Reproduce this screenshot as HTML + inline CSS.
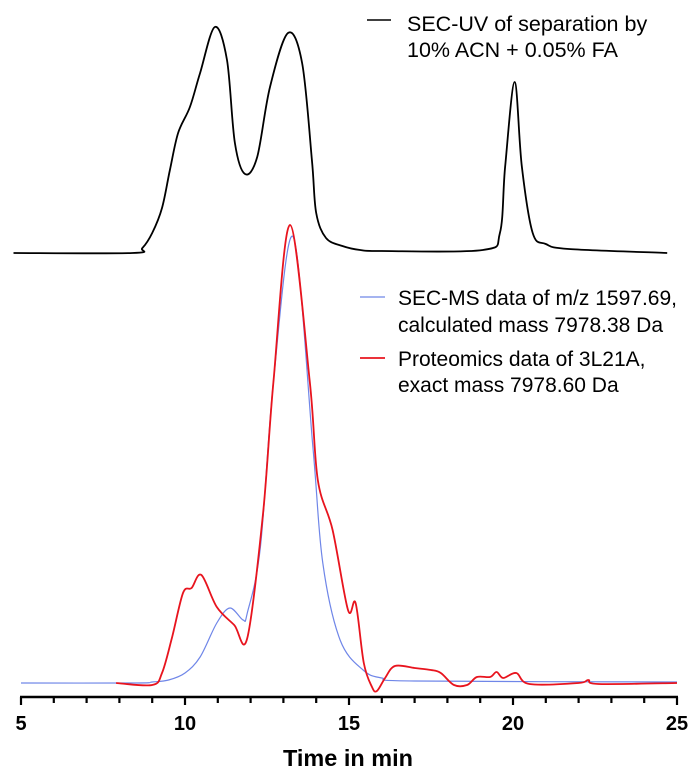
<!DOCTYPE html>
<html><head><meta charset="utf-8"><style>
html,body{margin:0;padding:0;background:#fff;}
svg{display:block;font-family:"Liberation Sans",Arial,sans-serif;}
</style></head><body>
<svg id="chart" width="696" height="776" viewBox="0 0 696 776" xmlns="http://www.w3.org/2000/svg">
<g id="axis"></g>
<g id="series"></g>
<g>
<line x1="367" y1="20" x2="391" y2="20" stroke="#000" stroke-width="1.6"/>
<text x="407" y="31" font-size="21.5" fill="#000">SEC-UV of separation by</text>
<text x="407" y="57" font-size="21.5" fill="#000">10% ACN + 0.05% FA</text>
</g>
<g>
<line x1="360" y1="297" x2="385" y2="297" stroke="#6f86e8" stroke-width="1.2"/>
<text x="398" y="305" font-size="21" fill="#000">SEC-MS data of m/z 1597.69,</text>
<text x="398" y="332" font-size="21" fill="#000">calculated mass 7978.38 Da</text>
</g>
<g>
<line x1="360" y1="358" x2="385" y2="358" stroke="#e8141e" stroke-width="1.8"/>
<text x="398" y="366" font-size="21" fill="#000">Proteomics data of 3L21A,</text>
<text x="398" y="392" font-size="21" fill="#000">exact mass 7978.60 Da</text>
</g>
<text x="283" y="766" textLength="130" lengthAdjust="spacingAndGlyphs" font-size="23" font-weight="bold" fill="#000">Time in min</text>
</svg>
<script>
const tickLabels=[5,10,15,20,25];
const uvTime=[4.77,8.4,8.7,9.0,9.3,9.54,9.79,10.15,10.46,10.91,11.28,11.52,11.83,12.2,12.59,13.14,13.57,13.87,14.0,14.3,14.8,15.34,16,19.08,19.6,19.76,20.05,20.27,20.6,21.0,21.7,24.7];
const uvValue=[0,0,5,20,45,83,120,146,180,226,193,110,79,96,166,220,190,93,40,15,7,3,2,3,20,86,171,86,20,9,4,0];
const msTime=[5,8.5,9,9.5,10,10.46,10.97,11.37,11.77,11.9,12.3,12.7,13.3,13.9,14.2,14.73,15.43,16,17,25];
const msValue=[0,0,1,3,10,26,60,75,63,70,136,303,446,236,120,43,13,5,2,1];
const prTime=[7.9,9,9.3,9.6,9.94,10.2,10.5,10.97,11.5,11.9,12.38,12.7,13.2,13.8,14.05,14.5,14.97,15.2,15.45,15.7,15.85,16.1,16.4,17,17.5,17.8,18.2,18.6,18.9,19.3,19.5,19.7,20.1,20.5,22,22.3,22.6,25];
const prValue=[0,-2,10,45,90,95,108,76,58,45,170,303,458,303,203,153,73,80,20,-4,-8,5,17,15,13,10,-2,-2,6,6,11,5,10,-1,0,3,-1,0];

const NS='http://www.w3.org/2000/svg';
const x=t=>21+(t-5)*(656/20);
const yUV=v=>253-v;
const yMS=v=>683-v;
function smooth(pts){
  let d='M'+pts[0][0].toFixed(1)+','+pts[0][1].toFixed(1);
  for(let i=0;i<pts.length-1;i++){
    const p0=pts[Math.max(0,i-1)],p1=pts[i],p2=pts[i+1],p3=pts[Math.min(pts.length-1,i+2)];
    const c1=[p1[0]+(p2[0]-p0[0])/6,p1[1]+(p2[1]-p0[1])/6];
    const c2=[p2[0]-(p3[0]-p1[0])/6,p2[1]-(p3[1]-p1[1])/6];
    d+='C'+c1[0].toFixed(1)+','+c1[1].toFixed(1)+' '+c2[0].toFixed(1)+','+c2[1].toFixed(1)+' '+p2[0].toFixed(1)+','+p2[1].toFixed(1);
  }
  return d;
}
const sg=document.getElementById('series');
function addLine(ts,vs,yf,color,w,name){
  const p=document.createElementNS(NS,'path');
  p.setAttribute('d',smooth(ts.map((t,i)=>[x(t),yf(vs[i])])));
  p.setAttribute('fill','none');p.setAttribute('stroke',color);p.setAttribute('stroke-width',w);
  p.setAttribute('stroke-linejoin','round');
  
  
  sg.appendChild(p);
}
addLine(uvTime,uvValue,yUV,'#000',1.8,'uv-trace');
addLine(msTime,msValue,yMS,'#6f86e8',1.2,'ms-trace');
addLine(prTime,prValue,yMS,'#e8141e',1.8,'proteomics-trace');

const ax=document.getElementById('axis');
const base=document.createElementNS(NS,'line');
base.setAttribute('x1',x(5)-1);base.setAttribute('x2',x(25)+1);base.setAttribute('y1',697);base.setAttribute('y2',697);
base.setAttribute('stroke','#000');base.setAttribute('stroke-width',2.4);


ax.appendChild(base);
for(let t=5;t<=25;t++){
  const major=tickLabels.includes(t);
  const l=document.createElementNS(NS,'line');
  l.setAttribute('x1',x(t));l.setAttribute('x2',x(t));l.setAttribute('y1',697);l.setAttribute('y2',major?705:703);
  l.setAttribute('stroke','#000');l.setAttribute('stroke-width',2.2);
  
  
  ax.appendChild(l);
}
tickLabels.forEach(t=>{
  const tx=document.createElementNS(NS,'text');
  tx.setAttribute('x',x(t));tx.setAttribute('y',730);tx.setAttribute('text-anchor','middle');
  tx.setAttribute('font-size','20');tx.setAttribute('font-weight','bold');
  tx.textContent=t;
  
  
  ax.appendChild(tx);
});
</script>
</body></html>
